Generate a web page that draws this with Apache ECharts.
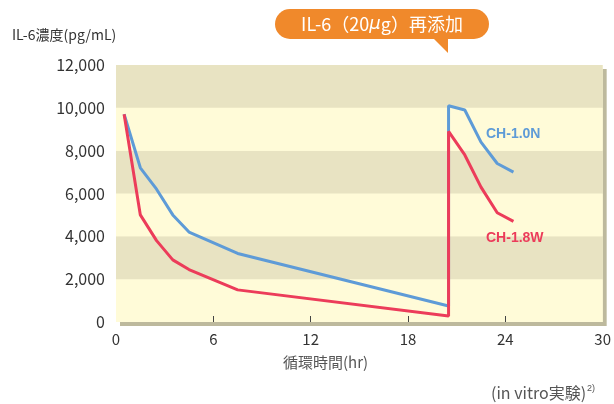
<!DOCTYPE html>
<html><head><meta charset="utf-8">
<script src="https://cdn.jsdelivr.net/npm/echarts@6/dist/echarts.min.js"></script>
<style>html,body{margin:0;padding:0;background:#fff}#c{width:614px;height:404px}</style>
</head><body><div id="c"></div>
<script>
const hours = [0.5, 1.5, 2.5, 3.5, 4.5, 7.5, 20.5, 20.5, 21.5, 22.5, 23.5, 24.5];
const ch10N = [9700, 7200, 6200, 5000, 4200, 3200, 750, 10100, 9900, 8400, 7400, 7000];
const ch18W = [9700, 5000, 3800, 2900, 2450, 1500, 280, 8900, 7800, 6300, 5100, 4700];
const xTicks = [0, 6, 12, 18, 24, 30];
const innerTicks = [6, 12, 18, 24];
const seriesNames = ['CH-1.0N', 'CH-1.8W'];

const FONT = '"Noto Sans CJK JP", "Noto Sans", sans-serif';
const pairs = v => hours.map((h, i) => [h, v[i]]);

const chart = echarts.init(document.getElementById('c'));
chart.setOption({
  animation: false,
  backgroundColor: '#ffffff',
  textStyle: { fontFamily: FONT },
  grid: {
    left: 116, right: 11, top: 65, bottom: 82,
    show: true, backgroundColor: '#fffbd8', borderWidth: 0,
    shadowColor: '#bdb99d', shadowOffsetX: 4, shadowOffsetY: 4, shadowBlur: 0
  },
  xAxis: {
    type: 'value', min: 0, max: 30, interval: 6,
    axisLine: { show: false },
    axisTick: { show: true, inside: true, length: 6, customValues: innerTicks, lineStyle: { color: '#444', width: 1 } },
    axisLabel: { color: '#333', fontSize: 15, margin: 10, fontFamily: FONT, customValues: xTicks },
    splitLine: { show: false }
  },
  yAxis: {
    type: 'value', min: 0, max: 12000, interval: 2000,
    axisLine: { show: false }, axisTick: { show: false },
    axisLabel: {
      color: '#333', fontSize: 16, margin: 11, fontFamily: FONT,
      formatter: v => v.toLocaleString('en-US')
    },
    splitLine: { show: false },
    splitArea: { show: true, areaStyle: { color: ['#fffbd8', '#e8e3c2'] } }
  },
  series: [
    { name: seriesNames[0], type: 'line', data: pairs(ch10N), showSymbol: false,
      lineStyle: { color: '#5e9bd7', width: 3 }, itemStyle: { color: '#5e9bd7' }, z: 3 },
    { name: seriesNames[1], type: 'line', data: pairs(ch18W), showSymbol: false,
      lineStyle: { color: '#ec3c5a', width: 3 }, itemStyle: { color: '#ec3c5a' }, z: 4 }
  ],
  graphic: [
    { type: 'text', left: 12, top: 28, z: 100, style: { text: 'IL-6濃度(pg/mL)', fill: '#333', font: '14px ' + FONT } },
    { type: 'text', left: 283, top: 355, z: 100, style: { text: '循環時間(hr)', fill: '#555', font: '15px ' + FONT } },
    { type: 'text', left: 491, top: 384, z: 100, style: {
        text: '(in vitro実験){s|2)}', fill: '#555', font: '16px ' + FONT,
        rich: { s: { fontSize: 9, verticalAlign: 'top', padding: [0, 0, 8, 1], fill: '#555' } } } },
    { type: 'text', left: 486, top: 127, z: 100, style: { text: seriesNames[0], fill: '#5e9bd7', font: 'bold 14px "Liberation Sans", sans-serif' } },
    { type: 'text', left: 486, top: 231, z: 100, style: { text: seriesNames[1], fill: '#ec3c5a', font: 'bold 14px "Liberation Sans", sans-serif' } },
    { type: 'rect', shape: { x: 275, y: 9, width: 214, height: 30, r: 15 }, style: { fill: '#f0892b' }, z: 100 },
    { type: 'polygon', shape: { points: [[432, 37], [448, 37], [448, 53]] }, style: { fill: '#f0892b' }, z: 100 },
    { type: 'text', x: 382, y: 24, z: 101, style: {
        text: 'IL-6（20{i|μ}g）再添加', fill: '#fff', font: '18px ' + FONT, align: 'center', verticalAlign: 'middle',
        rich: { i: { fontStyle: 'italic', fontSize: 18, fill: '#fff', fontFamily: 'DejaVu Sans' } } } }
  ]
});
</script></body></html>
